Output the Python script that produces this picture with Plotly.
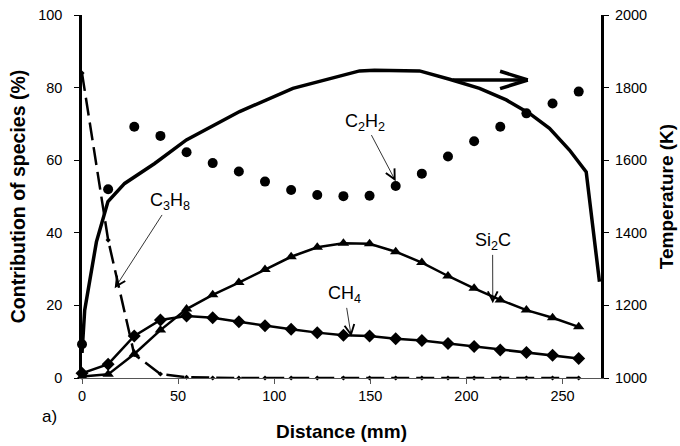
import plotly.graph_objects as go

# ---- data ----
distance_mm = [0, 13.6, 27.2, 40.8, 54.4, 68, 81.6, 95.2, 108.8, 122.4,
               136, 149.6, 163.2, 176.8, 190.4, 204, 217.6, 231.2, 244.8, 258.4]
c2h2 = [9.3, 52.0, 69.2, 66.7, 62.2, 59.2, 56.9, 54.1, 51.8, 50.4,
        50.1, 50.2, 52.9, 56.3, 61.0, 65.2, 69.2, 72.9, 75.6, 78.9]
si2c = [0.4, 1.0, 6.6, 13.2, 19.0, 22.9, 26.3, 29.9, 33.4, 36.0,
        37.1, 37.0, 34.8, 31.8, 28.1, 24.7, 21.5, 18.7, 16.6, 14.1]
ch4 = [1.3, 3.8, 11.6, 16.0, 17.1, 16.6, 15.5, 14.4, 13.4, 12.5,
       11.8, 11.6, 10.8, 10.3, 9.5, 8.7, 7.7, 7.0, 6.3, 5.4]
c3h8 = [84.0, 38.0, 6.5, 1.1, 0.2, 0, 0, 0, 0, 0,
        0, 0, 0, 0, 0, 0, 0, 0, 0, 0]

temp_x = [0, 1.4, 7.5, 13.5, 22.2, 37.8, 54.3, 82.0, 109.7, 144.4, 152.2,
          175.6, 191.2, 206.8, 220.7, 232.8, 243.2, 253.6, 262.3, 269.2]
temp_K = [1069, 1187, 1375, 1486, 1536, 1591, 1656, 1734, 1798, 1846, 1848,
          1846, 1823, 1798, 1766, 1729, 1688, 1628, 1568, 1265]

x_ticks = [0, 50, 100, 150, 200, 250]
y_ticks = [0, 20, 40, 60, 80, 100]
y2_ticks = [1000, 1200, 1400, 1600, 1800, 2000]

FONT = "Liberation Sans, Arial, sans-serif"

fig = go.Figure()

fig.add_trace(go.Scatter(x=distance_mm, y=c3h8, mode="lines+markers", name="C3H8",
                         line=dict(color="black", width=2.5, dash="18px,7px"),
                         marker=dict(symbol="diamond", size=4, color="black"),
                         cliponaxis=False))
fig.add_trace(go.Scatter(x=distance_mm, y=si2c, mode="lines+markers", name="Si2C",
                         line=dict(color="black", width=2.5),
                         marker=dict(symbol="triangle-up", size=10, color="black"),
                         cliponaxis=False))
fig.add_trace(go.Scatter(x=distance_mm, y=ch4, mode="lines+markers", name="CH4",
                         line=dict(color="black", width=2.5),
                         marker=dict(symbol="diamond", size=10, color="black"),
                         cliponaxis=False))
fig.add_trace(go.Scatter(x=distance_mm, y=c2h2, mode="markers", name="C2H2",
                         marker=dict(symbol="circle", size=10, color="black"),
                         cliponaxis=False))
fig.add_trace(go.Scatter(x=temp_x, y=temp_K, mode="lines", name="T", yaxis="y2",
                         line=dict(color="black", width=3.5), cliponaxis=False))

# label annotations (text centre -> arrow tip), data coords
labels = [
    ("C<sub>2</sub>H<sub>2</sub>", 147.0, 70.5, 163.2, 54.2),
    ("C<sub>3</sub>H<sub>8</sub>", 46.0, 48.5, 17.0, 24.7),
    ("CH<sub>4</sub>", 136.6, 22.9, 140.1, 11.4),
    ("Si<sub>2</sub>C", 213.6, 37.5, 213.7, 20.6),
]
for txt, tx, ty, px, py in labels:
    fig.add_annotation(x=px, y=py, ax=tx, ay=ty, xref="x", yref="y",
                       axref="x", ayref="y", text=txt, showarrow=True,
                       arrowhead=5, arrowsize=2.4, arrowwidth=0.8,
                       arrowcolor="black", standoff=0,
                       font=dict(family=FONT, size=18, color="black"))

# thick arrow pointing to temperature axis
arrow_shaft = ((192.8, 1821), (231.9, 1821))
arrow_barbs = [((217.5, 1845), (231.9, 1821)), ((217.5, 1797), (231.9, 1821))]
for (x0, y0), (x1, y1) in [arrow_shaft] + arrow_barbs:
    fig.add_shape(type="line", xref="x", yref="y2", x0=x0, y0=y0, x1=x1, y1=y1,
                  line=dict(color="black", width=3.5))

fig.add_annotation(text="a)", xref="paper", yref="paper", x=-0.062, y=-0.105,
                   showarrow=False, xanchor="center", yanchor="middle",
                   font=dict(family=FONT, size=17, color="black"))

fig.update_layout(
    width=680, height=446,
    margin=dict(l=82, r=79, t=15, b=68),
    paper_bgcolor="white", plot_bgcolor="white",
    showlegend=False,
    font=dict(family=FONT, size=14.5, color="black"),
    xaxis=dict(range=[0, 270], tickvals=x_ticks, showgrid=False, zeroline=False,
               showline=True, linecolor="#555555", linewidth=1, automargin=False,
               ticks="outside", ticklen=5, tickcolor="#555555",
               ticklabelstandoff=0,
               title=dict(text="<b>Distance (mm)</b>", standoff=21,
                          font=dict(family=FONT, size=19))),
    yaxis=dict(range=[0, 100], tickvals=y_ticks, showgrid=False, zeroline=False,
               showline=True, linecolor="black", linewidth=2.5, automargin=False,
               ticks="outside", ticklen=5, tickcolor="black",
               ticklabelstandoff=9,
               title=dict(text="<b>Contribution of species (%)</b>", standoff=8,
                          font=dict(family=FONT, size=19.5))),
    yaxis2=dict(range=[1000, 2000], tickvals=y2_ticks, overlaying="y", side="right",
                showgrid=False, zeroline=False, automargin=False,
                showline=True, linecolor="black", linewidth=3,
                ticks="outside", ticklen=5, tickcolor="black",
                ticklabelstandoff=3,
                title=dict(text="<b>Temperature (K)</b>", standoff=14,
                           font=dict(family=FONT, size=19))),
)

fig.write_html("out.html", config={"displayModeBar": False},
               post_script="document.body.style.margin='0px';")
